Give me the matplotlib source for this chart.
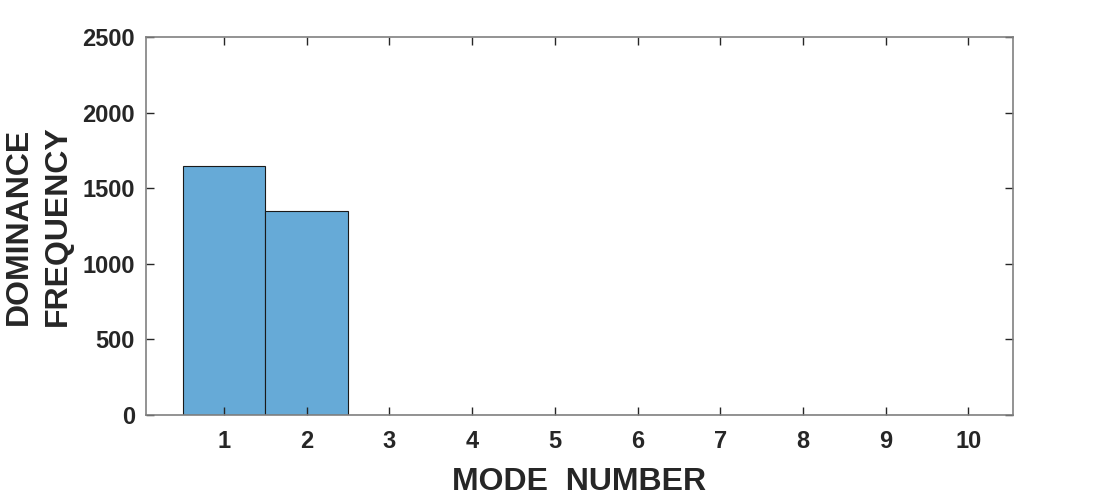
import numpy as np
import matplotlib.pyplot as plt

plt.rcParams['font.family'] = ['Liberation Sans', 'DejaVu Sans']
plt.rcParams['font.weight'] = 'bold'

modes = np.arange(1, 11)
counts = [1650, 1350, 0, 0, 0, 0, 0, 0, 0, 0]

fig = plt.figure(figsize=(11.2, 4.98), dpi=100)
ax = fig.add_axes([0.1304, 0.1667, 0.9045 - 0.1304, 0.9257 - 0.1667])

ax.bar(modes, counts, width=1.0, color='#66aad7', edgecolor='#1a1a1a', linewidth=0.8)

ax.set_xlim(0.057, 10.54)
ax.set_ylim(0, 2500)
ax.set_xticks(modes)
ax.set_yticks(np.arange(0, 2501, 500))

for s in ax.spines.values():
    s.set_color('#808080')
    s.set_linewidth(1.2)
ax.tick_params(direction='in', length=6, width=1, color='#262626',
               top=True, right=True, labelsize=17)
ax.tick_params(axis='x', pad=11)
ax.tick_params(axis='y', pad=8)
for lab in ax.get_xticklabels() + ax.get_yticklabels():
    lab.set_fontweight('bold')
    lab.set_color('#262626')

ax.set_xlabel('MODE  NUMBER', fontsize=23, fontweight='bold', color='#262626', labelpad=10)
ax.set_ylabel('DOMINANCE\nFREQUENCY', fontsize=23, fontweight='bold', color='#262626',
              linespacing=1.4, labelpad=7)

fig.savefig('out.png', dpi=100)
